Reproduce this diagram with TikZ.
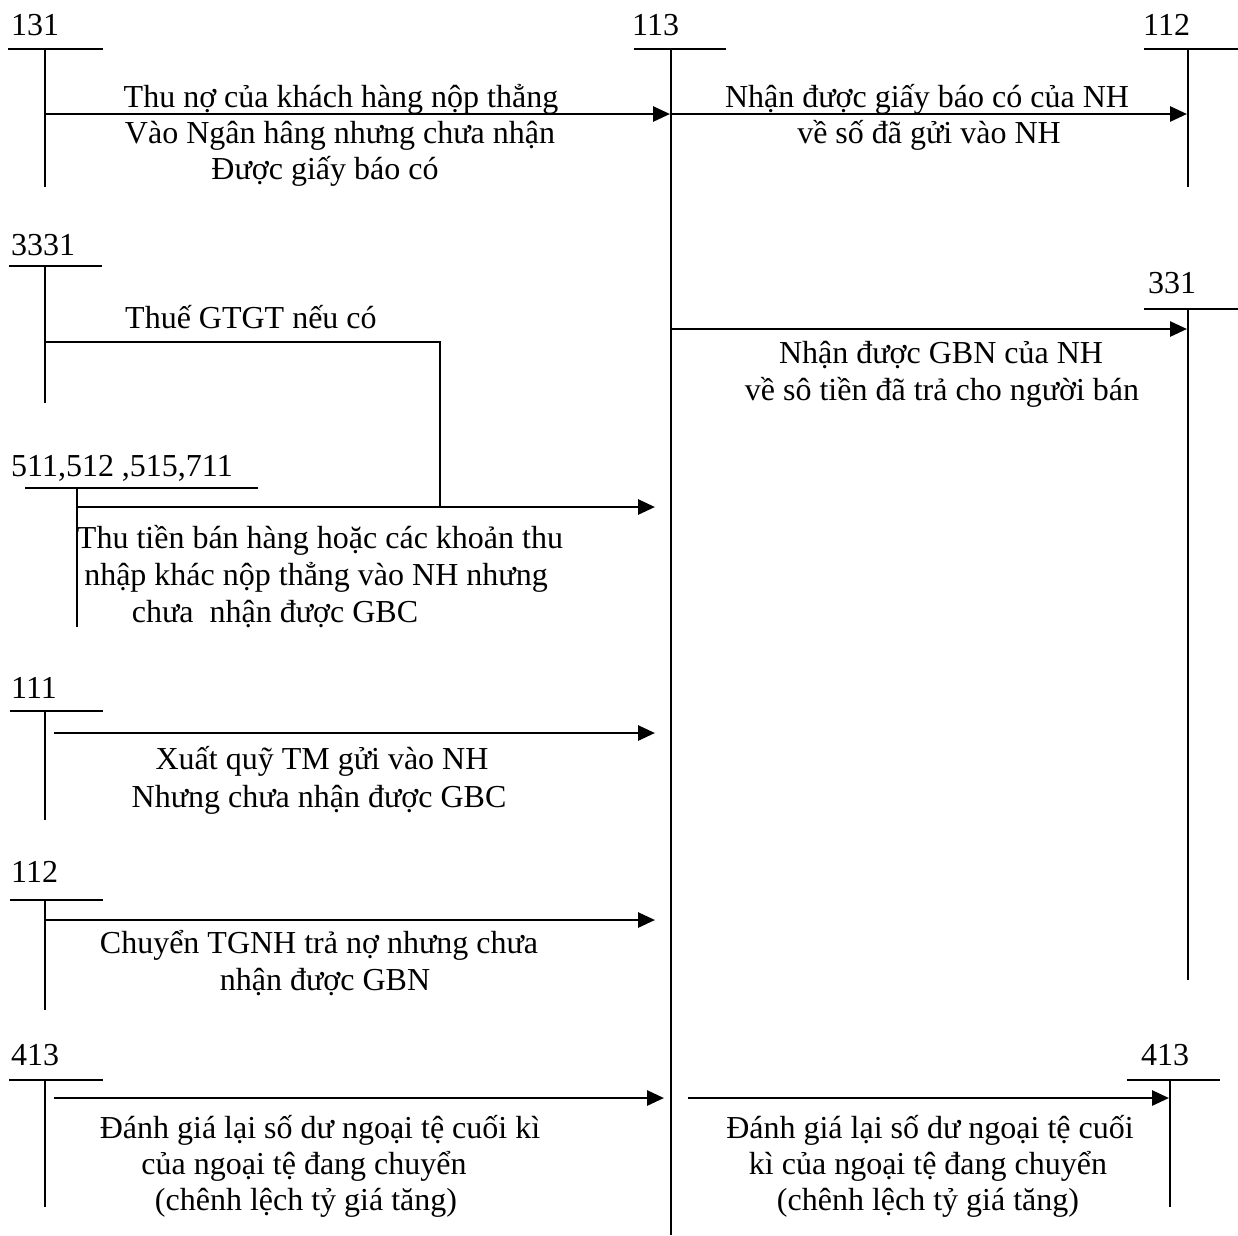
\documentclass[tikz,border=0pt]{standalone}
\usepackage{fontspec}
\setmainfont{Liberation Serif}
\usetikzlibrary{arrows.meta}
\begin{document}
\begin{tikzpicture}[x=1pt,y=-1pt,
  acct/.style={line width=2.3pt},
  flow/.style={line width=2.8pt,-{Triangle[length=17pt,width=15pt]}},
  lbl/.style={font=\fontsize{32}{37}\selectfont,inner sep=0pt,anchor=base west},
  txt/.style={font=\fontsize{32}{37}\selectfont,inner sep=0pt,anchor=base}]
\useasboundingbox (0,0) rectangle (1238,1235);

% ---------- T-account heads ----------
% 131
\node[lbl] (n131) at (11,35) {131};
\coordinate (a131l) at (8,49);   \coordinate (a131r) at (103,49);
\coordinate (a131t) at (45,49);  \coordinate (a131b) at (45,187);
\draw[acct] (a131l) -- (a131r);  \draw[acct] (a131t) -- (a131b);
% 113
\node[lbl] (n113) at (632,35) {113};
\coordinate (a113l) at (634,49); \coordinate (a113r) at (726,49);
\coordinate (a113t) at (671,49); \coordinate (a113b) at (671,1235);
\draw[acct] (a113l) -- (a113r);  \draw[acct] (a113t) -- (a113b);
% 112 (right)
\node[lbl] (n112r) at (1143,35) {112};
\coordinate (a112l) at (1144,49); \coordinate (a112r) at (1238,49);
\coordinate (a112t) at (1188,49); \coordinate (a112b) at (1188,187);
\draw[acct] (a112l) -- (a112r);  \draw[acct] (a112t) -- (a112b);
% 3331
\node[lbl] (n3331) at (11,255) {3331};
\coordinate (a3331l) at (9,266);  \coordinate (a3331r) at (102,266);
\coordinate (a3331t) at (45,266); \coordinate (a3331b) at (45,403);
\draw[acct] (a3331l) -- (a3331r); \draw[acct] (a3331t) -- (a3331b);
% 331
\node[lbl] (n331) at (1148,293) {331};
\coordinate (a331l) at (1144,309); \coordinate (a331r) at (1238,309);
\coordinate (a331t) at (1188,309); \coordinate (a331b) at (1188,980);
\draw[acct] (a331l) -- (a331r);  \draw[acct] (a331t) -- (a331b);
% 511,512,515,711
\node[lbl] (n511) at (11,476) {511,512 ,515,711};
\coordinate (a511l) at (25,488); \coordinate (a511r) at (258,488);
\coordinate (a511t) at (77,488); \coordinate (a511b) at (77,627);
\draw[acct] (a511l) -- (a511r);  \draw[acct] (a511t) -- (a511b);
% 111
\node[lbl] (n111) at (11,698) {111};
\coordinate (a111l) at (10,711); \coordinate (a111r) at (103,711);
\coordinate (a111t) at (45,711); \coordinate (a111b) at (45,820);
\draw[acct] (a111l) -- (a111r);  \draw[acct] (a111t) -- (a111b);
% 112 (left)
\node[lbl] (n112l) at (11,882) {112};
\coordinate (b112l) at (10,900); \coordinate (b112r) at (103,900);
\coordinate (b112t) at (45,900); \coordinate (b112b) at (45,1010);
\draw[acct] (b112l) -- (b112r);  \draw[acct] (b112t) -- (b112b);
% 413 (left)
\node[lbl] (n413l) at (11,1065) {413};
\coordinate (a413l) at (9,1080);  \coordinate (a413r) at (103,1080);
\coordinate (a413t) at (45,1080); \coordinate (a413b) at (45,1207);
\draw[acct] (a413l) -- (a413r);  \draw[acct] (a413t) -- (a413b);
% 413 (right)
\node[lbl] (n413r) at (1141,1065) {413};
\coordinate (b413l) at (1127,1080); \coordinate (b413r) at (1220,1080);
\coordinate (b413t) at (1170,1080); \coordinate (b413b) at (1170,1207);
\draw[acct] (b413l) -- (b413r);  \draw[acct] (b413t) -- (b413b);

% ---------- flows ----------
\coordinate (f1s) at (45,114);   \coordinate (f1e) at (670,114);
\draw[flow] (f1s) -- (f1e);
\coordinate (f2s) at (671,114);  \coordinate (f2e) at (1187,114);
\draw[flow] (f2s) -- (f2e);
\coordinate (f3s) at (671,329);  \coordinate (f3e) at (1187,329);
\draw[flow] (f3s) -- (f3e);
\coordinate (f4s) at (45,342);   \coordinate (f4c) at (440,342); \coordinate (f4e) at (440,507);
\draw[acct] (f4s) -- (f4c) -- (f4e);
\coordinate (f5s) at (77,507);   \coordinate (f5e) at (655,507);
\draw[flow] (f5s) -- (f5e);
\coordinate (f6s) at (54,733);   \coordinate (f6e) at (655,733);
\draw[flow] (f6s) -- (f6e);
\coordinate (f7s) at (45,920);   \coordinate (f7e) at (655,920);
\draw[flow] (f7s) -- (f7e);
\coordinate (f8s) at (54,1098);  \coordinate (f8e) at (664,1098);
\draw[flow] (f8s) -- (f8e);
\coordinate (f9s) at (688,1098); \coordinate (f9e) at (1169,1098);
\draw[flow] (f9s) -- (f9e);

% ---------- captions ----------
\node[txt] (c1a) at (341,107) {Thu nợ của khách hàng nộp thẳng};
\node[txt] (c1b) at (340,143) {Vào Ngân hâng nhưng chưa nhận};
\node[txt] (c1c) at (325,179) {Được giấy báo có};

\node[txt] (c2a) at (927,107) {Nhận được giấy báo có của NH};
\node[txt] (c2b) at (929,143) {về số đã gửi vào NH};

\node[txt,anchor=base west] (c3) at (125,328) {Thuế GTGT nếu có};

\node[txt] (c4a) at (941,363) {Nhận được GBN của NH};
\node[txt] (c4b) at (942,400) {về sô tiền đã trả cho người bán};

\node[txt] (c5a) at (320,548) {Thu tiền bán hàng hoặc các khoản thu};
\node[txt] (c5b) at (316,585) {nhập khác nộp thẳng vào NH nhưng};
\node[txt] (c5c) at (275,622) {chưa\ \ nhận được GBC};

\node[txt] (c6a) at (322,769) {Xuất quỹ TM gửi vào NH};
\node[txt] (c6b) at (319,807) {Nhưng chưa nhận được GBC};

\node[txt] (c7a) at (319,953) {Chuyển TGNH trả nợ nhưng chưa};
\node[txt] (c7b) at (325,990) {nhận được GBN};

\node[txt] (c8a) at (320,1138) {Đánh giá lại số dư ngoại tệ cuối kì};
\node[txt] (c8b) at (304,1174) {của ngoại tệ đang chuyển};
\node[txt] (c8c) at (306,1210) {(chênh lệch tỷ giá tăng)};

\node[txt] (c9a) at (930,1138) {Đánh giá lại số dư ngoại tệ cuối};
\node[txt] (c9b) at (928,1174) {kì của ngoại tệ đang chuyển};
\node[txt] (c9c) at (928,1210) {(chênh lệch tỷ giá tăng)};
\end{tikzpicture}
\end{document}
